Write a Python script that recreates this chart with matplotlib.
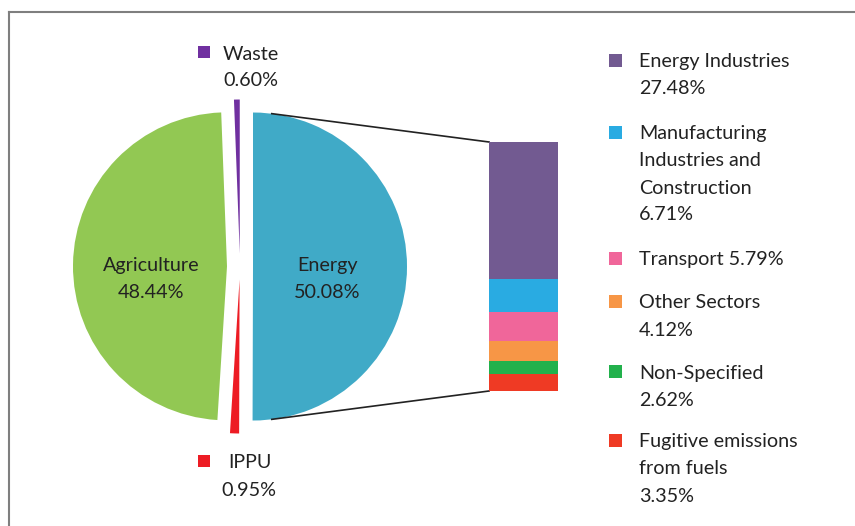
import matplotlib
matplotlib.use('Agg')
import matplotlib.pyplot as plt
import numpy as np
from matplotlib.patches import Rectangle

plt.rcParams['font.family'] = ['Lato', 'DejaVu Sans']

# pie data (share of total emissions, %)
pie_labels = ['Energy', 'IPPU', 'Agriculture', 'Waste']
pie_values = [50.08, 0.95, 48.44, 0.60]
pie_colors = ['#40aac7', '#ed1c24', '#92c853', '#7030a0']

# breakdown of Energy (%)
sub_labels = ['Energy Industries', 'Manufacturing\nIndustries and\nConstruction',
              'Transport', 'Other Sectors', 'Non-Specified',
              'Fugitive emissions\nfrom fuels']
sub_values = [27.48, 6.71, 5.79, 4.12, 2.62, 3.35]
sub_colors = ['#725a91', '#29abe2', '#f0669a', '#f79646', '#22b14c', '#ef3a24']

W, H = 855, 526
fig = plt.figure(figsize=(W / 100, H / 100), dpi=100)
ax = fig.add_axes([0, 0, 1, 1])

def py(y):
    # pixel row (from top) -> data y
    return H - y

cx, cy, R, ex = 240, py(266.5), 154, 13
wedges, _ = ax.pie(pie_values, colors=pie_colors, startangle=90, counterclock=False,
                   center=(cx, cy), radius=R, explode=[ex] * 4,
                   wedgeprops=dict(linewidth=0))
ax.set_xlim(0, W)
ax.set_ylim(0, H)
ax.set_aspect('equal')
ax.axis('off')

fs = 14.2
txt = dict(fontsize=fs, color='#222222')

def label(x, y, s, ha='left'):
    for i, l in enumerate(s.split('\n')):
        ax.text(x, py(y + 2 + i * 27), l, ha=ha, va='center', **txt)

# labels inside the two big slices
label(151, 263, 'Agriculture\n%.2f%%' % pie_values[2], ha='center')
label(327, 263, 'Energy\n%.2f%%' % pie_values[0], ha='center')

def sq(x, y, c, s=12):
    ax.add_patch(Rectangle((x, py(y) - s / 2), s, s, color=c, lw=0))

# small slices labels
sq(198, 52, pie_colors[3])
label(223, 52, 'Waste\n%.2f%%' % pie_values[3])
sq(198, 461, pie_colors[1])
label(228, 461, 'IPPU')
label(221, 488, '%.2f%%' % pie_values[1])

# stacked bar for Energy breakdown
bx0, bx1, by0, by1 = 489, 558, 142, 391
bax = fig.add_axes([bx0 / W, 1 - by1 / H, (bx1 - bx0) / W, (by1 - by0) / H])
bottom = 0
for v, c in zip(sub_values, sub_colors):
    bax.bar(0, v, bottom=bottom, width=1, color=c, linewidth=0)
    bottom += v
bax.set_xlim(-0.5, 0.5)
bax.set_ylim(sum(sub_values), 0)
bax.axis('off')

# connector lines from the Energy slice to the bar
th = np.deg2rad(83)
x0 = cx + ex + R * np.cos(th)
ax.plot([x0, bx0], [cy + R * np.sin(th), py(by0)], color='#222222', lw=1.2)
ax.plot([x0, bx0], [cy - R * np.sin(th), py(by1)], color='#222222', lw=1.2)

# legend for breakdown
leg_y = [60, 132, 258, 301, 371, 440]
for lab, v, c, y in zip(sub_labels, sub_values, sub_colors, leg_y):
    sq(609, y, c, 13)
    if lab == 'Transport':
        s = '%s %.2f%%' % (lab, v)
    else:
        s = '%s\n%.2f%%' % (lab, v)
    label(639, y, s)

# frame (top and left edges)
ax.plot([9, W], [py(12), py(12)], color='#7f7f7f', lw=1.5, clip_on=False)
ax.plot([9, 9], [py(12), 0], color='#7f7f7f', lw=1.5, clip_on=False)

fig.savefig('out.png', dpi=100)
